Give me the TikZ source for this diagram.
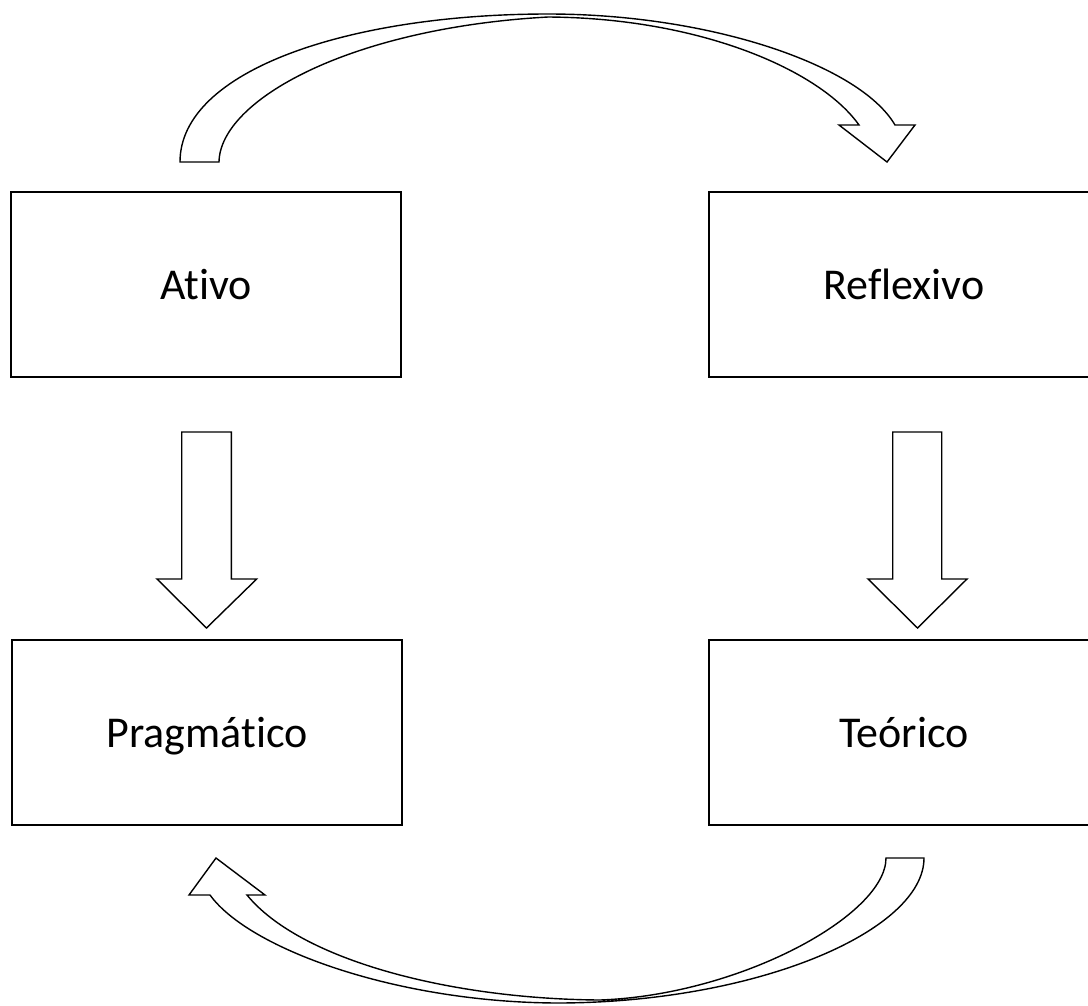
\documentclass[tikz,border=0pt]{standalone}
\usepackage{fontspec}
\setmainfont{Carlito}[Ligatures=NoCommon]
\begin{document}
\begin{tikzpicture}[x=1pt,y=-1pt,
  stagebox/.style={draw=black, line width=1.8pt, fill=white, inner sep=0pt,
    minimum width=390pt, minimum height=185pt, text height=29pt, text depth=0pt,
    font=\fontsize{44}{52}\selectfont},
  blockarrow/.style={draw=black, line width=1.4pt, fill=white, line join=miter}]
\useasboundingbox (0,0) rectangle (1088,1005);
\clip (0,0) rectangle (1088,1005);

% the four stages of the learning cycle
\node[stagebox] (ativo)      at (206,284.5) {Ativo};
\node[stagebox] (reflexivo)  at (904,284.5) {Reflexivo};
\node[stagebox] (pragmatico) at (207,732.5) {Pragmático};
\node[stagebox] (teorico)    at (904,732.5) {Teórico};

% straight block arrows between the rows
\draw[blockarrow] (181.7,432) -- (231.3,432) -- (231.3,579) -- (256.7,579)
  -- (206.5,628) -- (157,579) -- (181.7,579) -- cycle;
\draw[blockarrow] (892.7,432) -- (941.7,432) -- (941.7,579) -- (967,579)
  -- (917.5,628) -- (868,579) -- (892.7,579) -- cycle;

% curved block arrow over the top
\draw[blockarrow] (180,162) -- (219,162)
  .. controls (220,100) and (350,28) .. (548,17)
  .. controls (700,18) and (820,70) .. (859,125)
  -- (839,125) -- (887,162) -- (915,125) -- (895,125)
  .. controls (860,65) and (710,14) .. (548,14)
  .. controls (350,14) and (180,70) .. (180,162) -- cycle;

% curved block arrow along the bottom
\draw[blockarrow] (886,858) -- (924,858)
  .. controls (924,930) and (760,1002) .. (560,1003)
  .. controls (400,1003) and (250,950) .. (210,895)
  -- (189,895) -- (216,858) -- (265,895) -- (247,895)
  .. controls (300,960) and (450,999) .. (600,1000)
  .. controls (740,995) and (886,915) .. (886,858) -- cycle;
\end{tikzpicture}
\end{document}
